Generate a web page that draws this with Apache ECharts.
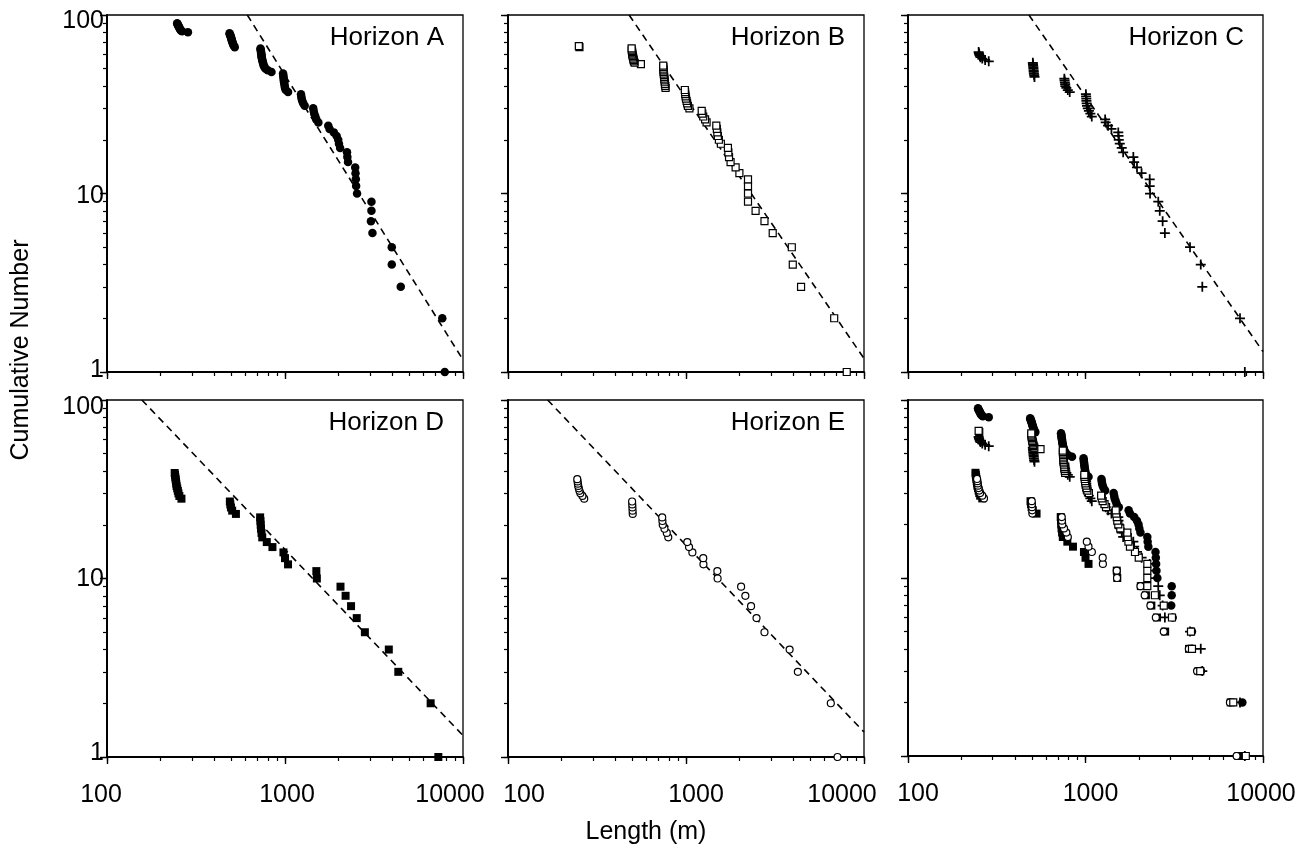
<!DOCTYPE html>
<html>
<head>
<meta charset="utf-8">
<script src="https://cdn.jsdelivr.net/npm/echarts@6/dist/echarts.min.js"></script>
<style>
  html, body { margin: 0; padding: 0; background: #fff; }
  #chart { width: 1310px; height: 848px; }
</style>
</head>
<body>
<div id="chart"></div>
<script>
// Cumulative fault-length distributions, one panel per horizon, log-log.
// Each point: [length in m, cumulative number of faults at least that long].

const horizonA = [[7900,1],[7650,2],[4470,3],[3980,4],[3980,5],[3100,6],[3040,7],[3060,8],[3060,9],[2540,10],
  [2510,11],[2500,12],[2490,13],[2480,14],[2260,15],[2240,16],[2230,17],[2040,18],[2010,19],[1990,20],
  [1950,21],[1880,22],[1780,23],[1750,24],[1540,25],[1500,26],[1480,27],[1460,28],[1450,29],[1440,30],
  [1290,31],[1265,32],[1250,33],[1240,34],[1235,35],[1230,36],[1040,37],[1010,38],[1000,39],[996,40],
  [992,41],[988,42],[985,43],[983,44],[980,45],[978,46],[975,47],[840,48],[800,49],[778,50],
  [768,51],[760,52],[756,53],[752,54],[748,55],[745,56],[742,57],[740,58],[738,59],[737,60],
  [735,61],[733,62],[732,63],[730,64],[728,65],[522,66],[517,67],[513,68],[510,69],[508,70],
  [505,71],[503,72],[501,73],[499,74],[497,75],[495,76],[492,77],[490,78],[488,79],[285,80],
  [264,81],[260,82],[258,83],[256,84],[255,85],[253,86],[252,87],[250,88],[249,89],[248,90]];

const horizonB = [[8000,1],[6800,2],[4430,3],[3980,4],[3930,5],[3070,6],[2760,7],[2460,8],[2230,9],[2230,10],
  [2230,11],[2230,12],[1995,13],[1900,14],[1780,15],[1745,16],[1730,17],[1720,18],[1570,19],[1530,20],
  [1510,21],[1500,22],[1490,23],[1480,24],[1305,25],[1280,26],[1250,27],[1235,28],[1225,29],[1045,30],
  [1025,31],[1015,32],[1008,33],[1000,34],[995,35],[990,36],[988,37],[985,38],[768,39],[765,40],
  [762,41],[760,42],[758,43],[756,44],[754,45],[752,46],[750,47],[749,48],[748,49],[747,50],
  [746,51],[745,52],[558,53],[515,54],[510,55],[508,56],[506,57],[504,58],[502,59],[500,60],
  [499,61],[498,62],[497,63],[496,64],[495,65],[252,66],[250,67]];

const horizonC = [[7900,1],[7420,2],[4550,3],[4460,4],[3880,5],[2800,6],[2720,7],[2620,8],[2570,9],[2310,10],
  [2300,11],[2300,12],[2070,13],[1950,14],[1880,15],[1860,16],[1630,17],[1600,18],[1560,19],[1540,20],
  [1535,21],[1530,22],[1400,23],[1340,24],[1300,25],[1290,26],[1085,27],[1065,28],[1045,29],[1030,30],
  [1020,31],[1015,32],[1012,33],[1010,34],[1008,35],[1005,36],[815,37],[795,38],[780,39],[770,40],
  [768,41],[765,42],[762,43],[760,44],[516,45],[514,46],[512,47],[511,48],[510,49],[509,50],
  [508,51],[507,52],[506,53],[505,54],[285,55],[272,56],[262,57],[256,58],[254,59],[252,60],
  [251,61],[250,62]];

const horizonD = [[7270,1],[6580,2],[4330,3],[3830,4],[2810,5],[2530,6],[2350,7],[2190,8],[2050,9],[1510,10],
  [1500,11],[1040,12],[1000,13],[980,14],[850,15],[790,16],[745,17],[738,18],[733,19],[730,20],
  [728,21],[725,22],[530,23],[505,24],[497,25],[493,26],[490,27],[262,28],[255,29],[252,30],
  [250,31],[248,32],[246,33],[245,34],[244,35],[243,36],[242,37],[241,38],[240,39]];

const horizonE = [[7100,1],[6510,2],[4250,3],[3820,4],[2760,5],[2490,6],[2320,7],[2155,8],[2040,9],[1505,10],
  [1500,11],[1253,12],[1250,13],[1086,14],[1040,15],[1017,16],[795,17],[780,18],[757,19],[740,20],
  [737,21],[735,22],[502,23],[501,24],[500,25],[499,26],[498,27],[268,28],[262,29],[255,30],
  [252,31],[250,32],[248,33],[247,34],[246,35],[245,36]];

// Power-law fits (dashed), given by their end points in data units
const fitA = [[614, 100], [10000, 1.17]];
const fitB = [[479, 100], [10000, 1.19]];
const fitC = [[480, 100], [10000, 1.30]];
const fitD = [[157, 100], [10000, 1.32]];
const fitE = [[167, 100], [10000, 1.38]];

const panelTitles = ['Horizon A', 'Horizon B', 'Horizon C', 'Horizon D', 'Horizon E', ''];
const xTickValues = [100,200,300,400,500,600,700,800,900,1000,2000,3000,4000,5000,6000,7000,8000,9000,10000];
const yTickValues = [1,2,3,4,5,6,7,8,9,10,20,30,40,50,60,70,80,90,100];
const xMajorTicks = [100, 1000, 10000];
const yMajorTicks = [1, 10, 100];
const xAxisTitle = 'Length (m)';
const yAxisTitle = 'Cumulative Number';

// ---- layout and styling ----
const FONT = '"Liberation Sans", Arial, Helvetica, sans-serif';
const CHART_W = 1310;
const gridBoxes = [
  [107, 15, 356, 357], [508, 15, 356, 357], [908, 15, 355, 357],
  [107, 400, 356, 357], [508, 400, 356, 357], [908, 400, 355, 356]
];
// horizontal nudges (px) of the 100 / 1000 / 10000 labels under each bottom panel
const xLabelNudge = { 3: [-6, 2, -13], 4: [16, 10, -22], 5: [10, 5, -2] };
// vertical nudges (px) of the 1 / 10 / 100 labels on the left column
const yLabelNudge = { 0: [-2, 3, 6], 3: [-4, 1, 7] };

const PLUS = 'path://M3.3,0H4.7V3.3H8V4.7H4.7V8H3.3V4.7H0V3.3H3.3Z';
const markStyles = {
  A: { symbol: 'circle', symbolSize: 8.5, itemStyle: { color: '#000', opacity: 1 } },
  B: { symbol: 'rect', symbolSize: 7, itemStyle: { color: '#fff', borderColor: '#000', borderWidth: 1.2, opacity: 1 } },
  C: { symbol: PLUS, symbolSize: 10, itemStyle: { color: '#000', opacity: 1 } },
  D: { symbol: 'rect', symbolSize: 8, itemStyle: { color: '#000', opacity: 1 } },
  E: { symbol: 'circle', symbolSize: 7, itemStyle: { color: '#fff', borderColor: '#000', borderWidth: 1.2, opacity: 1 } }
};
const horizonData = { A: horizonA, B: horizonB, C: horizonC, D: horizonD, E: horizonE };
const fitData = { A: fitA, B: fitB, C: fitC, D: fitD, E: fitE };
const panelKeys = ['A', 'B', 'C', 'D', 'E'];

const grids = [], xAxes = [], yAxes = [], series = [], titles = [];

// rich-text styles that shift a centred label by d pixels
function shiftRich(nudges, horizontal) {
  const rich = {};
  nudges.forEach((d, k) => {
    const p = Math.abs(d) * 2;
    rich['n' + k] = horizontal
      ? { padding: d >= 0 ? [0, 0, 0, p] : [0, p, 0, 0] }
      : { padding: d >= 0 ? [p, 0, 0, 0] : [0, 0, p, 0] };
  });
  return rich;
}
function shiftFormatter(majors) {
  return v => {
    const r = Math.round(v);
    const k = majors.indexOf(r);
    return k >= 0 ? '{n' + k + '|' + r + '}' : String(r);
  };
}

gridBoxes.forEach((b, i) => {
  const row = i < 3 ? 0 : 1, col = i % 3;
  grids.push({ left: b[0], top: b[1], width: b[2], height: b[3], show: true,
    borderColor: '#000', borderWidth: 1.3, backgroundColor: 'transparent', containLabel: false });

  const xLabel = { show: row === 1, customValues: xMajorTicks, fontSize: 25, margin: 26,
    color: '#000', fontFamily: FONT };
  if (xLabelNudge[i]) {
    xLabel.formatter = shiftFormatter(xMajorTicks);
    xLabel.rich = shiftRich(xLabelNudge[i], true);
    Object.keys(xLabel.rich).forEach(k => Object.assign(xLabel.rich[k], { fontSize: 25, fontFamily: FONT, color: '#000' }));
  }
  const yLabel = { show: col === 0, customValues: yMajorTicks, fontSize: 25, margin: 3,
    color: '#000', fontFamily: FONT };
  if (yLabelNudge[i]) {
    yLabel.formatter = shiftFormatter(yMajorTicks);
    yLabel.rich = shiftRich(yLabelNudge[i], false);
    Object.keys(yLabel.rich).forEach(k => Object.assign(yLabel.rich[k], { fontSize: 25, fontFamily: FONT, color: '#000' }));
  }

  // main axes: line, minor ticks, labels
  xAxes.push({ type: 'log', logBase: 10, gridIndex: i, min: 100, max: 10000, position: 'bottom',
    axisLine: { show: true, onZero: false, lineStyle: { color: '#000', width: 2 } },
    axisTick: { show: true, inside: false, length: 4, customValues: xTickValues, lineStyle: { color: '#000', width: 1.2 } },
    axisLabel: xLabel, splitLine: { show: false }, minorTick: { show: false } });
  yAxes.push({ type: 'log', logBase: 10, gridIndex: i, min: 1, max: 100, position: 'left',
    axisLine: { show: true, onZero: false, lineStyle: { color: '#000', width: 2 } },
    axisTick: { show: true, inside: false, length: 4, customValues: yTickValues, lineStyle: { color: '#000', width: 1.2 } },
    axisLabel: yLabel, splitLine: { show: false }, minorTick: { show: false } });

  if (panelTitles[i]) {
    titles.push({ text: panelTitles[i], right: CHART_W - (b[0] + b[2]) + 19, top: b[1] + 10, padding: 0,
      textStyle: { fontSize: 26, fontWeight: 'normal', color: '#000', fontFamily: FONT } });
  }
});

// longer decade ticks on overlaid axes
gridBoxes.forEach((b, i) => {
  xAxes.push({ type: 'log', logBase: 10, gridIndex: i, min: 100, max: 10000, position: 'bottom',
    axisLine: { show: false }, axisLabel: { show: false }, splitLine: { show: false },
    axisTick: { show: true, inside: false, length: 7, customValues: xMajorTicks, lineStyle: { color: '#000', width: 1.4 } } });
  yAxes.push({ type: 'log', logBase: 10, gridIndex: i, min: 1, max: 100, position: 'left',
    axisLine: { show: false }, axisLabel: { show: false }, splitLine: { show: false },
    axisTick: { show: true, inside: false, length: 7, customValues: yMajorTicks, lineStyle: { color: '#000', width: 1.4 } } });
});

function scatterSeries(key, idx) {
  return Object.assign({ type: 'scatter', xAxisIndex: idx, yAxisIndex: idx, data: horizonData[key],
    z: 3, silent: true }, markStyles[key]);
}

panelKeys.forEach((key, i) => {
  series.push({ type: 'line', xAxisIndex: i, yAxisIndex: i, data: fitData[key], symbol: 'none',
    lineStyle: { color: '#000', width: 1.6, type: [7, 5] }, z: 2, silent: true, clip: true });
  series.push(scatterSeries(key, i));
});
// combined panel: all horizons together
['A', 'D', 'E', 'C', 'B'].forEach(key => series.push(scatterSeries(key, 5)));

const chart = echarts.init(document.getElementById('chart'), null, { renderer: 'canvas' });
chart.setOption({
  animation: false,
  backgroundColor: '#fff',
  title: titles,
  grid: grids,
  xAxis: xAxes,
  yAxis: yAxes,
  series: series,
  graphic: [
    { type: 'text', x: 21, y: 350, rotation: Math.PI / 2,
      style: { text: yAxisTitle, fontSize: 25, fontFamily: FONT, fill: '#000', align: 'center', verticalAlign: 'middle' } },
    { type: 'text', x: 646, y: 832,
      style: { text: xAxisTitle, fontSize: 25, fontFamily: FONT, fill: '#000', align: 'center', verticalAlign: 'middle' } }
  ]
});
</script>
</body>
</html>
